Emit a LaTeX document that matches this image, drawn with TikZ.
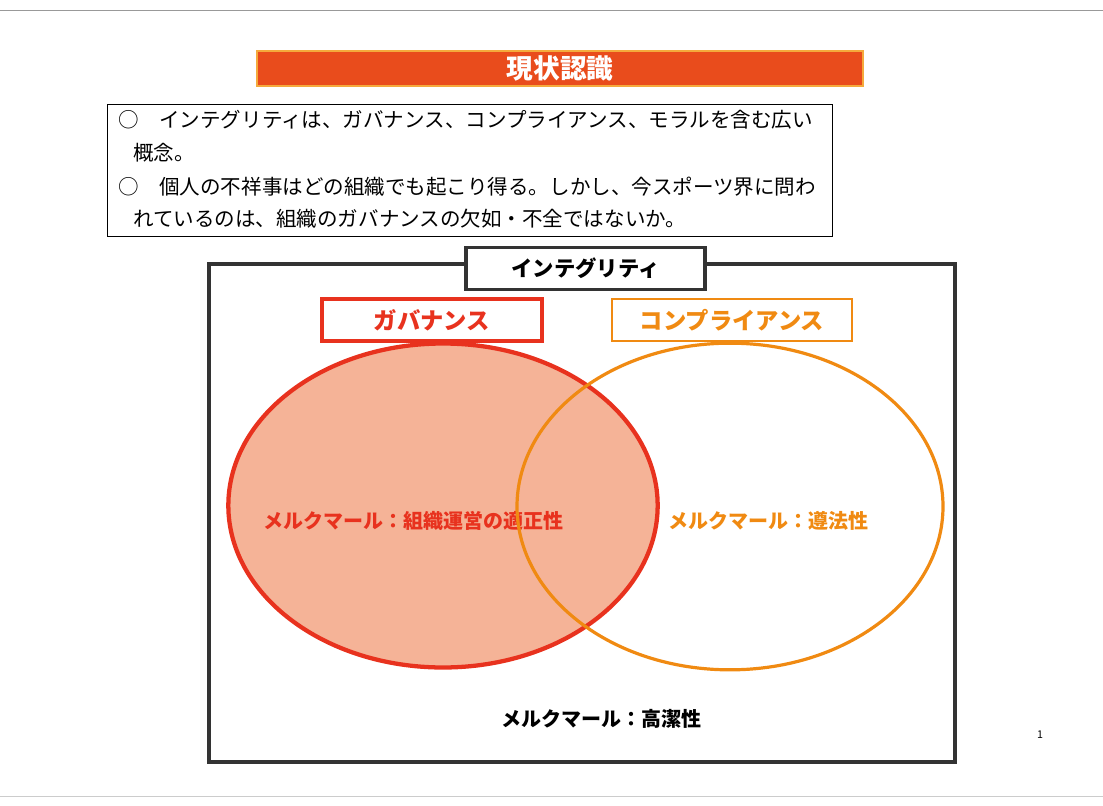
\documentclass[tikz,border=0pt]{standalone}
\usepackage{fontspec}
\newfontfamily\jp{Noto Sans CJK JP}
\usetikzlibrary{shapes.geometric}
\definecolor{titlered}{HTML}{E94C1C}
\definecolor{govred}{HTML}{E8321E}
\definecolor{salmon}{HTML}{F5B397}
\definecolor{compor}{HTML}{F08A12}
\definecolor{framegray}{HTML}{333333}
\tikzset{
  bodytext/.style={anchor=west,inner sep=0pt,font=\jp\fontsize{15.4}{18}\selectfont},
  labelbox/.style={draw,line width=2.6pt,fill=white,minimum height=31.5pt,inner sep=0pt},
  merk/.style={inner sep=0pt,font=\jp\bfseries\fontsize{15}{18}\selectfont},
}
\begin{document}
\begin{tikzpicture}[x=0.75pt,y=-0.75pt]
\useasboundingbox (0,0) rectangle (1103,806);
% page rules
\draw[gray!80,line width=0.6pt] (0,10) -- (1103,10);
\draw[gray!40,line width=0.6pt] (0,796) -- (1103,796);
% title bar
\node[fill=titlered,draw={rgb,255:red,245;green,170;blue,60},line width=0.8pt,minimum width=454.5pt,minimum height=26.25pt,inner sep=0pt,
      text=white,font=\jp\bfseries\fontsize{20}{24}\selectfont] (title) at (560,68.5) {現状認識};
% text box
\node[draw=black,line width=0.7pt,minimum width=543.75pt,minimum height=99pt,inner sep=0pt] (textbox) at (469.5,170) {};
\node[bodytext] (l1) at (118,120) {○　インテグリティは、ガバナンス、コンプライアンス、モラルを含む広い};
\node[bodytext] (l2) at (133,153) {概念。};
\node[bodytext] (l3) at (118,187) {○　個人の不祥事はどの組織でも起こり得る。しかし、今スポーツ界に問わ};
\node[bodytext] (l4) at (133,219) {れているのは、組織のガバナンスの欠如・不全ではないか。};
% integrity frame
\node[draw=framegray,line width=2.6pt,minimum width=559.5pt,minimum height=373.5pt,inner sep=0pt] (frame) at (582,513) {};
\node[labelbox,draw=framegray,minimum width=179pt,font=\jp\bfseries\fontsize{16}{19}\selectfont] (integ) at (585.5,268.5) {インテグリティ};
% governance ellipse
\node[ellipse,fill=salmon,draw=govred,line width=3.2pt,minimum width=322pt,minimum height=243pt,inner sep=0pt] (gov) at (443,505.5) {};
\node[merk,text=govred] (govm) at (413,521) {メルクマール：組織運営の適正性};
% compliance ellipse
\node[ellipse,draw=compor,line width=2.4pt,minimum width=319.5pt,minimum height=245pt,inner sep=0pt] (comp) at (730,506.5) {};
\node[merk,text=compor] (compm) at (768,521) {メルクマール：遵法性};
% label boxes
\node[labelbox,draw=govred,text=govred,minimum width=165pt,font=\jp\bfseries\fontsize{17.5}{20}\selectfont] (govl) at (432,320) {ガバナンス};
\node[labelbox,draw=compor,line width=2.2pt,text=compor,minimum width=180pt,font=\jp\bfseries\fontsize{17.5}{20}\selectfont] (compl) at (732,320) {コンプライアンス};
% integrity merkmal
\node[merk,text=black] (intm) at (601,719) {メルクマール：高潔性};
% page number
\node[inner sep=0pt,font=\jp\fontsize{8}{9}\selectfont] (pg) at (1040,735) {1};
\end{tikzpicture}
\end{document}
